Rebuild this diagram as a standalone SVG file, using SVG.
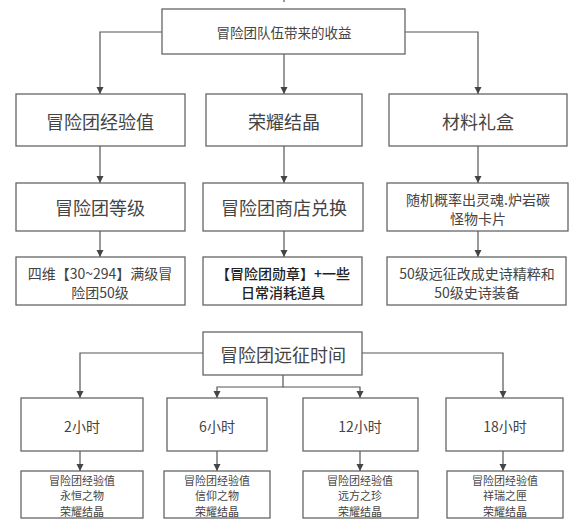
<svg xmlns="http://www.w3.org/2000/svg" width="580" height="530" viewBox="0 0 580 530">
<style>
rect{fill:#fff;stroke:#666;stroke-width:1.3}
text{font-family:"Noto Sans CJK SC","Noto Sans",sans-serif;fill:#444;text-anchor:middle;dominant-baseline:central}
.l{font-size:18px}
.m{font-size:14px}
.s{font-size:11px}
.t{font-size:13.5px}
.b{font-weight:500;fill:#222}
#connectors path{fill:none;stroke:#555;stroke-width:1.2}
</style>
<defs>
<marker id="ah" markerUnits="userSpaceOnUse" markerWidth="8" markerHeight="8" refX="7" refY="4" orient="auto">
<path d="M0,0.5 L7,4 L0,7.5 z" fill="#444"/>
</marker>
</defs>
<rect x="0" y="0" width="580" height="530" style="fill:#fff;stroke:none"/>
<g id="connectors">
<path d="M284,0 V2"/>
<path d="M162,32 H100 V94" marker-end="url(#ah)"/>
<path d="M284,54 V94" marker-end="url(#ah)"/>
<path d="M405,32 H478 V94" marker-end="url(#ah)"/>
<path d="M100,146 V183" marker-end="url(#ah)"/>
<path d="M284,146 V183" marker-end="url(#ah)"/>
<path d="M478,146 V183" marker-end="url(#ah)"/>
<path d="M100,231 V257" marker-end="url(#ah)"/>
<path d="M284,231 V257" marker-end="url(#ah)"/>
<path d="M478,231 V257" marker-end="url(#ah)"/>
<path d="M203,353 H80 V398" marker-end="url(#ah)"/>
<path d="M362,353 H503 V398" marker-end="url(#ah)"/>
<path d="M283,375 V387 H217 V398" marker-end="url(#ah)"/>
<path d="M283,387 H360 V398" marker-end="url(#ah)"/>
<path d="M80,451 V471" marker-end="url(#ah)"/>
<path d="M217,451 V471" marker-end="url(#ah)"/>
<path d="M360,451 V471" marker-end="url(#ah)"/>
<path d="M503,451 V471" marker-end="url(#ah)"/>
</g>
<g id="root"><rect x="162" y="9" width="243" height="45"/><text class="t" x="284" y="32">冒险团队伍带来的收益</text></g>
<g id="exp"><rect x="16" y="94" width="169" height="52"/><text class="l" x="100" y="121">冒险团经验值</text></g>
<g id="glory"><rect x="206" y="94" width="156" height="52"/><text class="l" x="284" y="121">荣耀结晶</text></g>
<g id="box"><rect x="389" y="94" width="178" height="52"/><text class="l" x="478" y="121">材料礼盒</text></g>
<g id="level"><rect x="16" y="183" width="169" height="48"/><text class="l" x="100" y="207">冒险团等级</text></g>
<g id="shop"><rect x="203" y="183" width="160" height="48"/><text class="l" x="284" y="207">冒险团商店兑换</text></g>
<g id="random"><rect x="387" y="183" width="181" height="48"/><text class="m" x="478" y="199">随机概率出灵魂.炉岩碳</text><text class="m" x="478" y="218">怪物卡片</text></g>
<g id="stats"><rect x="16" y="257" width="169" height="48"/><text class="m" x="100" y="273">四维【30~294】满级冒</text><text class="m" x="100" y="292">险团50级</text></g>
<g id="medal"><rect x="203" y="257" width="159" height="48"/><text class="m b" x="283" y="273">【冒险团勋章】+一些</text><text class="m b" x="283" y="292">日常消耗道具</text></g>
<g id="epic"><rect x="387" y="257" width="179" height="48"/><text class="m" x="477" y="273">50级远征改成史诗精粹和</text><text class="m" x="477" y="292">50级史诗装备</text></g>
<g id="time"><rect x="203" y="332" width="159" height="43"/><text class="l" x="283" y="354">冒险团远征时间</text></g>
<g id="h2"><rect x="21" y="398" width="122" height="53"/><text class="m" x="82" y="426">2小时</text></g>
<g id="h6"><rect x="167" y="398" width="100" height="53"/><text class="m" x="217" y="426">6小时</text></g>
<g id="h12"><rect x="303" y="398" width="115" height="53"/><text class="m" x="360" y="426">12小时</text></g>
<g id="h18"><rect x="446" y="398" width="117" height="53"/><text class="m" x="505" y="426">18小时</text></g>
<g id="r2"><rect x="21" y="471" width="122" height="47"/><text class="s" x="82" y="479.5">冒险团经验值</text><text class="s" x="82" y="495.3">永恒之物</text><text class="s" x="82" y="511.1">荣耀结晶</text></g>
<g id="r6"><rect x="164" y="471" width="106" height="47"/><text class="s" x="217" y="479.5">冒险团经验值</text><text class="s" x="217" y="495.3">信仰之物</text><text class="s" x="217" y="511.1">荣耀结晶</text></g>
<g id="r12"><rect x="303" y="471" width="115" height="47"/><text class="s" x="360" y="479.5">冒险团经验值</text><text class="s" x="360" y="495.3">远方之珍</text><text class="s" x="360" y="511.1">荣耀结晶</text></g>
<g id="r18"><rect x="447" y="471" width="116" height="47"/><text class="s" x="505" y="479.5">冒险团经验值</text><text class="s" x="505" y="495.3">祥瑞之匣</text><text class="s" x="505" y="511.1">荣耀结晶</text></g>
</svg>
